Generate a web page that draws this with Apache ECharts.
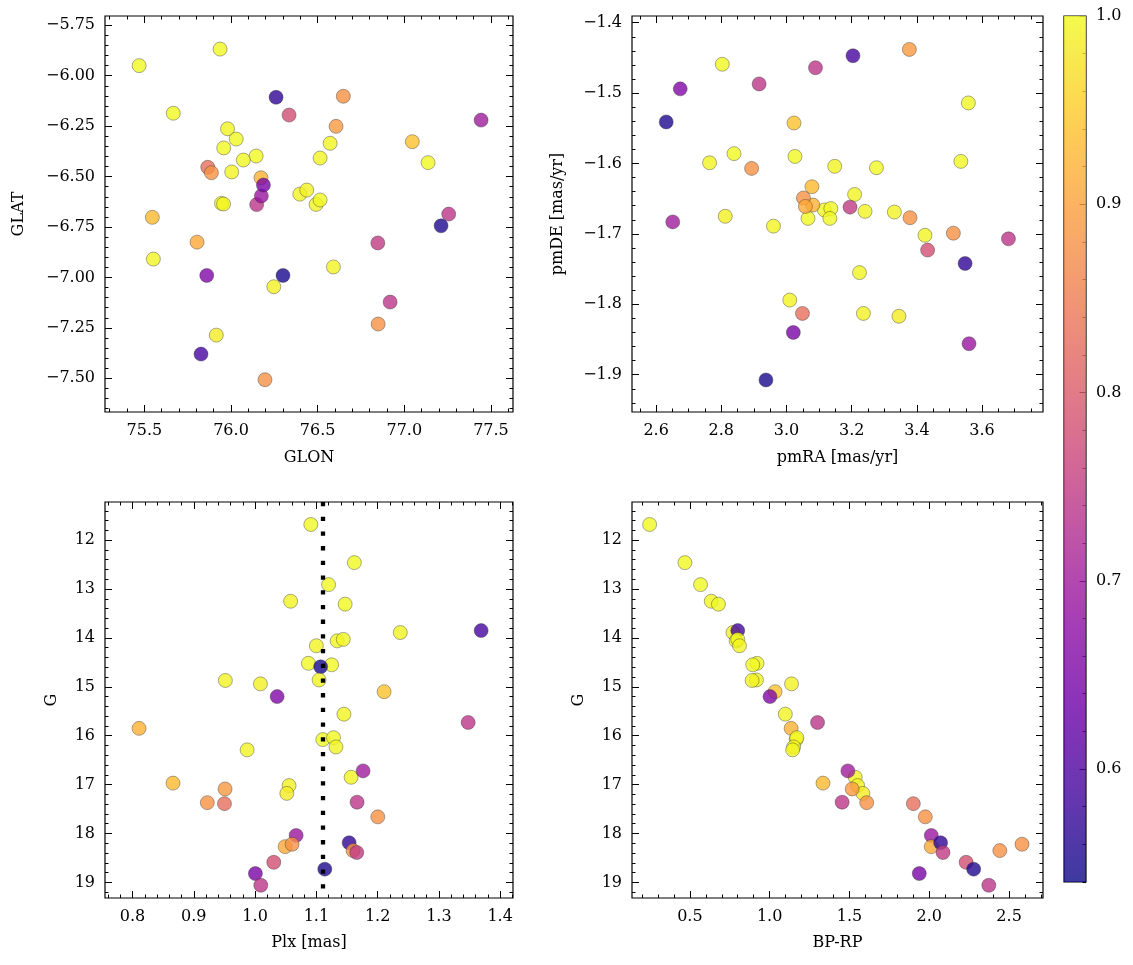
<!DOCTYPE html>
<html><head><meta charset="utf-8">
<script src="https://cdn.jsdelivr.net/npm/echarts@6/dist/echarts.min.js"></script>
<style>html,body{margin:0;padding:0;background:#fff}#c{width:1133px;height:965px}</style>
</head><body><div id="c"></div>
<script>
// ---- data (one entry per star) ----
const prob = [1.00,0.998,1.00,0.995,1.00,0.995,0.59,1.00,0.998,0.995,1.00,0.998,0.55,0.995,0.995,0.99,0.94,0.66,0.995,0.92,0.74,1.00,0.998,0.995,0.995,0.995,0.70,0.93,0.99,0.985,0.89,0.88,0.83,0.74,0.88,0.69,0.91,0.88,0.57,0.88,0.75,0.78,0.65,0.74,0.555];
const glon = [75.47,75.937,75.667,75.98,76.03,76.572,75.827,75.958,76.145,76.514,76.071,77.137,76.30,76.004,76.397,76.437,77.046,75.86,76.491,76.173,77.256,76.514,75.945,75.957,75.552,76.591,77.443,75.546,76.247,75.915,76.606,76.648,75.866,76.148,75.887,76.175,75.804,76.849,76.26,76.196,76.847,76.335,76.187,76.918,77.212];
const glat = [-5.95,-5.868,-6.186,-6.263,-6.314,-6.335,-7.38,-6.358,-6.398,-6.408,-6.418,-6.431,-6.99,-6.477,-6.587,-6.567,-6.327,-6.99,-6.638,-6.506,-6.686,-6.616,-6.633,-6.636,-6.909,-6.948,-6.22,-6.702,-7.046,-7.286,-6.251,-6.102,-6.454,-6.639,-6.481,-6.596,-6.825,-7.231,-6.107,-7.507,-6.829,-6.195,-6.542,-7.122,-6.744];
const pmra = [2.803,3.558,2.839,2.764,3.026,3.148,3.204,3.276,3.535,3.209,3.116,3.136,2.937,3.241,3.331,2.812,3.023,2.674,2.96,3.081,3.089,3.066,3.133,3.425,3.224,3.01,2.651,3.078,3.236,3.345,3.377,2.893,3.049,2.916,3.052,3.56,3.058,3.379,3.548,3.512,3.195,3.433,3.021,3.681,2.631];
const pmde = [-1.459,-1.514,-1.586,-1.599,-1.590,-1.604,-1.447,-1.606,-1.597,-1.644,-1.666,-1.664,-1.9075,-1.668,-1.669,-1.675,-1.5425,-1.494,-1.689,-1.659,-1.464,-1.678,-1.678,-1.702,-1.755,-1.794,-1.683,-1.633,-1.813,-1.817,-1.438,-1.607,-1.813,-1.487,-1.649,-1.856,-1.661,-1.677,-1.742,-1.699,-1.662,-1.723,-1.840,-1.707,-1.541];
const plx = [1.091,1.162,1.120,1.058,1.147,1.237,1.369,1.134,1.144,1.100,1.087,1.125,1.107,1.1045,0.9515,1.0087,1.2106,1.036,1.145,0.8106,1.3478,1.1105,1.128,1.132,0.987,1.1567,1.1763,0.866,1.0555,1.0518,0.951,0.922,0.950,1.1665,1.2003,1.067,1.049,1.0604,1.1535,1.160,1.166,1.0305,1.0005,1.0093,1.1138];
const gmag = [11.68,12.46,12.91,13.25,13.31,13.89,13.85,14.06,14.03,14.16,14.52,14.55,14.59,14.86,14.87,14.94,15.10,15.20,15.56,15.85,15.73,16.08,16.04,16.23,16.29,16.85,16.72,16.97,17.02,17.18,17.09,17.37,17.39,17.36,17.66,18.04,18.27,18.22,18.19,18.35,18.39,18.59,18.82,19.06,18.73];
const bprp = [0.248,0.469,0.567,0.634,0.679,0.770,0.800,0.790,0.800,0.811,0.921,0.894,null,0.917,0.890,1.137,1.034,1.002,1.098,1.1345,1.30,1.166,1.17,1.15,1.144,1.536,1.49,1.334,1.551,1.584,1.517,1.608,1.90,1.454,1.975,2.0125,2.0125,2.581,2.071,2.442,2.086,2.231,1.9375,2.373,2.278];
const plxRef = 1.107;

// ---- tick labels ----
const glonTicks = [75.5,76.0,76.5,77.0,77.5];
const glatTicks = [-7.5,-7.25,-7.0,-6.75,-6.5,-6.25,-6.0,-5.75];
const pmraTicks = [2.6,2.8,3.0,3.2,3.4,3.6];
const pmdeTicks = [-1.9,-1.8,-1.7,-1.6,-1.5,-1.4];
const plxTicks = [0.8,0.9,1.0,1.1,1.2,1.3,1.4];
const gTicks = [12,13,14,15,16,17,18,19];
const bprpTicks = [0.5,1.0,1.5,2.0,2.5];
const cbTicks = [0.6,0.7,0.8,0.9,1.0];

const PLASMA = ['#0d0887','#41049d','#6a00a8','#8f0da4','#b12a90','#cc4778','#e16462','#f2844b','#fca636','#fcce25','#f0f921'];
const PMIN = 0.54, PMAX = 1.0;

const FONT = 'DejaVu Serif';
const FS = 16;

function stepTicks(lo, hi, step){
  const out=[]; const s=Math.ceil(lo/step-1e-9);
  for(let k=s;k*step<=hi+1e-9;k++) out.push(+(k*step).toFixed(6));
  return out;
}
const fmt = d => v => v.toFixed(d).replace('-', '\u2212');

const panels = [
  {grid:{left:105,top:16,width:408,height:396},
   x:{min:75.273,max:77.627,major:glonTicks,minor:0.1,dec:1,name:'GLON',gap:38},
   y:{min:-7.667,max:-5.704,major:glatTicks,minor:0.05,dec:2,name:'GLAT',gap:78}},
  {grid:{left:632,top:16,width:411,height:396},
   x:{min:2.526,max:3.787,major:pmraTicks,minor:0.05,dec:1,name:'pmRA [mas/yr]',gap:38},
   y:{min:-1.953,max:-1.3905,major:pmdeTicks,minor:0.02,dec:1,name:'pmDE [mas/yr]',gap:66}},
  {grid:{left:105,top:502,width:408,height:396},
   x:{min:0.755,max:1.421,major:plxTicks,minor:0.02,dec:1,name:'Plx [mas]',gap:37},
   y:{min:11.22,max:19.32,major:gTicks,minor:0.2,dec:0,name:'G',gap:45,inverse:true}},
  {grid:{left:632,top:502,width:411,height:396},
   x:{min:0.1375,max:2.7125,major:bprpTicks,minor:0.1,dec:1,name:'BP-RP',gap:37},
   y:{min:11.22,max:19.32,major:gTicks,minor:0.2,dec:0,name:'G',gap:45,inverse:true}}
];

const tickLine = {color:'#000', width:1};
function axisSet(dim, gi, c){
  const pos = dim==='x' ? ['bottom','top'] : ['left','right'];
  const minorVals = stepTicks(c.min,c.max,c.minor).filter(v=>!c.major.some(m=>Math.abs(m-v)<1e-6));
  const common = {type:'value', gridIndex:gi, min:c.min, max:c.max, inverse:!!c.inverse, scale:true,
    splitLine:{show:false}, axisLine:{show:false,onZero:false}};
  return [
    Object.assign({}, common, {position:pos[0], name:c.name, nameLocation:'middle', nameGap:c.gap,
      nameTextStyle:{color:'#000', fontFamily:FONT, fontSize:FS},
      axisTick:{show:true, inside:true, length:7, customValues:c.major, lineStyle:tickLine},
      axisLabel:{show:true, customValues:c.major, formatter:fmt(c.dec), color:'#000', fontFamily:FONT, fontSize:FS, margin: dim==='x'?11:10}}),
    Object.assign({}, common, {position:pos[0],
      axisTick:{show:true, inside:true, length:3.5, customValues:minorVals, lineStyle:tickLine}, axisLabel:{show:false}}),
    Object.assign({}, common, {position:pos[1],
      axisTick:{show:true, inside:true, length:7, customValues:c.major, lineStyle:tickLine}, axisLabel:{show:false}}),
    Object.assign({}, common, {position:pos[1],
      axisTick:{show:true, inside:true, length:3.5, customValues:minorVals, lineStyle:tickLine}, axisLabel:{show:false}})
  ];
}

const grids=[], xAxes=[], yAxes=[], series=[];
const cols = [[glon,glat],[pmra,pmde],[plx,gmag],[bprp,gmag]];
panels.forEach((p,i)=>{
  grids.push(Object.assign({show:true, borderColor:'#000', borderWidth:1.2, backgroundColor:'transparent', containLabel:false, outerBoundsMode:'none'}, p.grid));
  xAxes.push(...axisSet('x', i, p.x));
  yAxes.push(...axisSet('y', i, p.y));
  const [xs, ys] = cols[i];
  const data=[];
  for(let k=0;k<prob.length;k++){ if(xs[k]==null||ys[k]==null) continue; data.push([xs[k], ys[k], prob[k]]); }
  const s = {type:'scatter', xAxisIndex:4*i, yAxisIndex:4*i, data, symbolSize:14, animation:false,
    itemStyle:{opacity:0.8, borderColor:'#333', borderWidth:0.5}, emphasis:{disabled:true}, silent:true};
  if(i===2){
    s.markLine = {silent:true, symbol:['none','none'], animation:false, label:{show:false},
      lineStyle:{color:'#000', width:4.3, type:[4.3,10.4], cap:'butt', opacity:1},
      data:[{xAxis:plxRef}]};
  }
  series.push(s);
});

// colorbar
grids.push({show:true, borderColor:'#000', borderWidth:1.2, left:1064, top:16, width:22, height:866, containLabel:false, outerBoundsMode:'none'});
const cbIndex = xAxes.length;
xAxes.push({type:'value', gridIndex:4, min:0, max:1, show:false});
const cbMinor = stepTicks(PMIN, PMAX, 0.02).filter(v=>!cbTicks.some(m=>Math.abs(m-v)<1e-6));
const cbY = yAxes.length;
yAxes.push({type:'value', gridIndex:4, min:PMIN, max:PMAX, position:'right', scale:true,
  splitLine:{show:false}, axisLine:{show:false,onZero:false},
  axisTick:{show:true, inside:true, length:6.5, customValues:cbTicks, lineStyle:tickLine},
  axisLabel:{show:true, customValues:cbTicks, formatter:fmt(1), color:'#000', fontFamily:FONT, fontSize:FS, margin:10}});
yAxes.push({type:'value', gridIndex:4, min:PMIN, max:PMAX, position:'right', scale:true,
  splitLine:{show:false}, axisLine:{show:false,onZero:false},
  axisTick:{show:true, inside:true, length:3.5, customValues:cbMinor, lineStyle:tickLine}, axisLabel:{show:false}});
series.push({type:'custom', xAxisIndex:cbIndex, yAxisIndex:cbY, silent:true, animation:false, clip:false, z:1,
  data:[[0, PMIN, 1, PMAX]],
  renderItem:(params, api)=>{
    const a = api.coord([api.value(0), api.value(3)]);
    const b = api.coord([api.value(2), api.value(1)]);
    return {type:'rect', shape:{x:a[0], y:a[1], width:b[0]-a[0], height:b[1]-a[1]},
      style:{fill:new echarts.graphic.LinearGradient(0,1,0,0, PLASMA.map((c,i)=>({offset:i/(PLASMA.length-1), color:c}))), opacity:0.8}};
  }});

const chart = echarts.init(document.getElementById('c'), null, {renderer:'canvas'});
chart.setOption({
  animation:false,
  backgroundColor:'#fff',
  grid:grids, xAxis:xAxes, yAxis:yAxes,
  visualMap:{type:'continuous', show:false, min:PMIN, max:PMAX, dimension:2, seriesIndex:[0,1,2,3], inRange:{color:PLASMA}},
  series
});
</script></body></html>
